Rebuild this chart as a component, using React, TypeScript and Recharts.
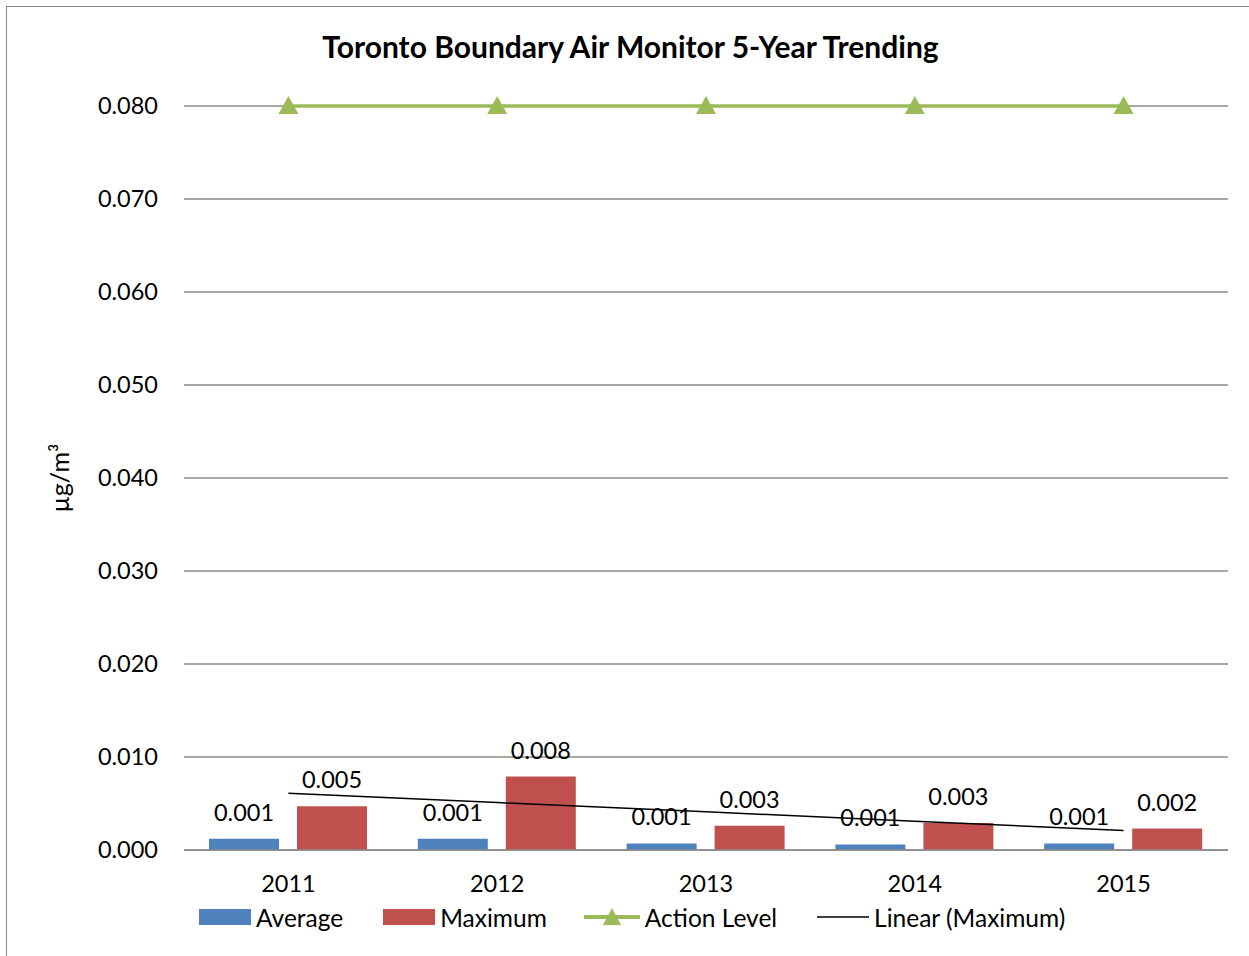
import React from "react";
import {
  Bar,
  CartesianGrid,
  ComposedChart,
  LabelList,
  Legend,
  Line,
  XAxis,
  YAxis,
} from "recharts";

const years = ["2011", "2012", "2013", "2014", "2015"];
const average = [0.0012, 0.0012, 0.0007, 0.0006, 0.0007];
const maximum = [0.0047, 0.0079, 0.0026, 0.0029, 0.0023];
const actionLevel = [0.08, 0.08, 0.08, 0.08, 0.08];
// trendline
const linearMax = [0.0061, 0.0051, 0.0041, 0.0031, 0.0021];
const yTicks = [0, 0.01, 0.02, 0.03, 0.04, 0.05, 0.06, 0.07, 0.08];

const data = years.map((year, i) => ({
  year,
  average: average[i],
  maximum: maximum[i],
  actionLevel: actionLevel[i],
  linearMax: linearMax[i],
}));

const FONT = "Lato, 'Open Sans', sans-serif";
const BLUE = "#4F81BD";
const RED = "#C0504D";
const GREEN = "#9BBB59";
const TEXT_SIZE = 23.5;

const Triangle = (props: any) => {
  const { cx, cy } = props;
  if (cx == null || cy == null) return null;
  return (
    <path
      d={`M${cx},${cy - 10} L${cx + 10},${cy + 8} L${cx - 10},${cy + 8} Z`}
      fill={GREEN}
    />
  );
};

const legendItem = (icon: React.ReactNode, text: string, gap: number) => (
  <span style={{ display: "inline-flex", alignItems: "center", marginRight: gap }}>
    {icon}
    <span style={{ marginLeft: 5 }}>{text}</span>
  </span>
);

const ChartLegend = () => (
  <div
    style={{
      fontFamily: FONT,
      fontSize: 24.5,
      color: "#000",
      display: "flex",
      alignItems: "center",
      height: 30,
      whiteSpace: "nowrap",
    }}
  >
    {legendItem(
      <svg width={52} height={16}>
        <rect x={0} y={0} width={52} height={16} fill={BLUE} />
      </svg>,
      "Average",
      40
    )}
    {legendItem(
      <svg width={52} height={16}>
        <rect x={0} y={0} width={52} height={16} fill={RED} />
      </svg>,
      "Maximum",
      37
    )}
    {legendItem(
      <svg width={56} height={22}>
        <line x1={0} y1={11} x2={56} y2={11} stroke={GREEN} strokeWidth={4} />
        <path d="M28,2 L37,19 L19,19 Z" fill={GREEN} />
      </svg>,
      "Action Level",
      40
    )}
    {legendItem(
      <svg width={52} height={16}>
        <line x1={0} y1={8} x2={52} y2={8} stroke="#000" strokeWidth={1.5} />
      </svg>,
      "Linear (Maximum)",
      0
    )}
  </div>
);

export default function App() {
  return (
    <div
      style={{
        position: "fixed",
        left: 0,
        top: 0,
        width: 1249,
        height: 956,
        background: "#fff",
        overflow: "hidden",
      }}
    >
      <div
        style={{
          position: "absolute",
          left: 6,
          top: 6,
          width: 1300,
          height: 1000,
          borderLeft: "1.5px solid #8a8a8a",
          borderTop: "1.5px solid #8a8a8a",
        }}
      />
      <div
        style={{
          position: "absolute",
          left: 6,
          width: 1249,
          top: 28,
          textAlign: "center",
          fontFamily: FONT,
          fontWeight: 700,
          fontSize: 30,
          color: "#000",
        }}
      >
        Toronto Boundary Air Monitor 5-Year Trending
      </div>
      <div style={{ position: "absolute", left: 0, top: 0 }}>
        <ComposedChart
          width={1249}
          height={956}
          data={data}
          margin={{ top: 106, right: 21, left: 0, bottom: 46 }}
          barGap={18}
          barCategoryGap="12.5%"
        >
          <CartesianGrid vertical={false} stroke="#8a8a8a" strokeWidth={1.5} />
          <XAxis
            dataKey="year"
            tickLine={false}
            axisLine={{ stroke: "#8a8a8a", strokeWidth: 1.5 }}
            tick={{ fontFamily: FONT, fontSize: TEXT_SIZE, fill: "#000" }}
            tickSize={0}
            tickMargin={25}
            height={30}
          />
          <YAxis
            domain={[0, 0.08]}
            ticks={yTicks}
            interval={0}
            width={184}
            axisLine={false}
            tickLine={false}
            tickSize={0}
            tickMargin={26}
            tickFormatter={(v: number) => v.toFixed(3)}
            tick={{ fontFamily: FONT, fontSize: TEXT_SIZE, fill: "#000" }}
            label={{
              value: "µg/m³",
              angle: -90,
              position: "insideLeft",
              offset: 60,
              style: { fontFamily: FONT, fontSize: 25, fill: "#000", textAnchor: "middle" },
            }}
          />
          <Legend
            verticalAlign="bottom"
            content={<ChartLegend />}
            wrapperStyle={{ top: 902, left: 199, bottom: "auto", width: "auto" }}
          />
          <Bar dataKey="average" name="Average" fill={BLUE} barSize={70} isAnimationActive={false}>
            <LabelList
              dataKey="average"
              position="top"
              offset={18}
              formatter={(v: any) => Number(v).toFixed(3)}
              style={{ fontFamily: FONT, fontSize: TEXT_SIZE, fill: "#000" }}
            />
          </Bar>
          <Bar dataKey="maximum" name="Maximum" fill={RED} barSize={70} isAnimationActive={false}>
            <LabelList
              dataKey="maximum"
              position="top"
              offset={18}
              formatter={(v: any) => Number(v).toFixed(3)}
              style={{ fontFamily: FONT, fontSize: TEXT_SIZE, fill: "#000" }}
            />
          </Bar>
          <Line
            dataKey="actionLevel"
            name="Action Level"
            stroke={GREEN}
            strokeWidth={3.5}
            dot={<Triangle />}
            activeDot={false}
            isAnimationActive={false}
          />
          <Line
            dataKey="linearMax"
            name="Linear (Maximum)"
            stroke="#000"
            strokeWidth={1.5}
            dot={false}
            activeDot={false}
            isAnimationActive={false}
          />
        </ComposedChart>
      </div>
    </div>
  );
}
